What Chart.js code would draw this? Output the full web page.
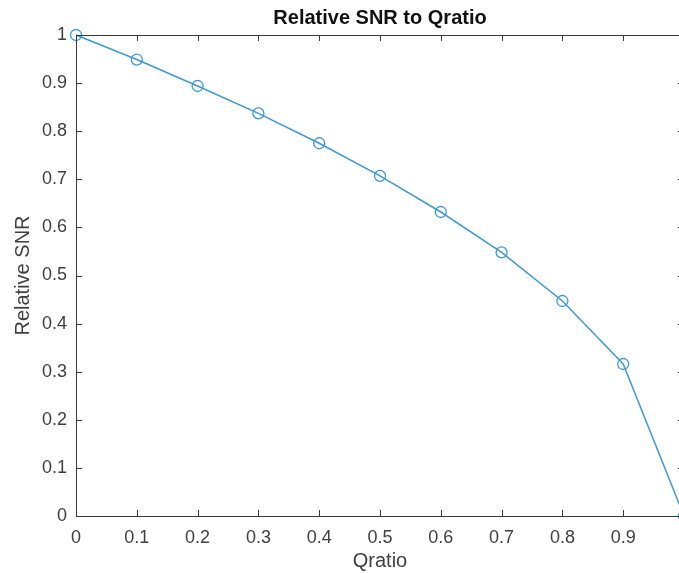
<!DOCTYPE html>
<html>
<head>
<meta charset="utf-8">
<script src="https://cdn.jsdelivr.net/npm/chart.js@4.4.1/dist/chart.umd.min.js"></script>
<style>
  html, body { margin: 0; padding: 0; background: #fff; }
  .wrap { width: 679px; height: 573px; overflow: hidden; position: relative; }
  .wrap canvas { position: absolute; left: 0; top: 0; }
</style>
</head>
<body>
<div class="wrap">
  <canvas id="chart" width="740" height="573"></canvas>
</div>
<script>
const qratio = [0, 0.1, 0.2, 0.3, 0.4, 0.5, 0.6, 0.7, 0.8, 0.9, 1];
const relSNR = [1, 0.949, 0.894, 0.837, 0.775, 0.707, 0.632, 0.548, 0.447, 0.316, 0];
const xTickLabels = ['0', '0.1', '0.2', '0.3', '0.4', '0.5', '0.6', '0.7', '0.8', '0.9', '1'];
const yTickLabels = ['0', '0.1', '0.2', '0.3', '0.4', '0.5', '0.6', '0.7', '0.8', '0.9', '1'];

const lineColor = '#3d98d6';
const axisColor = '#3a3a3a';
const labelColor = '#404040';
const fontFamily = "'Liberation Sans', Arial, Helvetica, sans-serif";

// matlab style box with inward ticks
const boxTicks = {
  id: 'boxTicks',
  afterDraw(chart) {
    const { ctx, chartArea: a, scales } = chart;
    const len = 6;
    ctx.save();
    ctx.strokeStyle = axisColor;
    ctx.lineWidth = 1;
    ctx.beginPath();
    scales.x.ticks.forEach(t => {
      const px = Math.round(scales.x.getPixelForValue(t.value)) + 0.5;
      ctx.moveTo(px, a.bottom); ctx.lineTo(px, a.bottom - len);
      ctx.moveTo(px, a.top); ctx.lineTo(px, a.top + len);
    });
    scales.y.ticks.forEach(t => {
      const py = Math.round(scales.y.getPixelForValue(t.value)) + 0.5;
      ctx.moveTo(a.left, py); ctx.lineTo(a.left + len, py);
      ctx.moveTo(a.right, py); ctx.lineTo(a.right - len, py);
    });
    ctx.stroke();
    ctx.strokeRect(Math.round(a.left) + 0.5, Math.round(a.top) + 0.5,
      Math.round(a.right - a.left), Math.round(a.bottom - a.top));
    ctx.restore();
  }
};

new Chart(document.getElementById('chart'), {
  type: 'scatter',
  data: {
    datasets: [{
      data: qratio.map((q, i) => ({ x: q, y: relSNR[i] })),
      showLine: true,
      borderColor: lineColor,
      borderWidth: 1.5,
      pointStyle: 'circle',
      pointRadius: 5.5,
      pointBorderWidth: 1.3,
      pointBackgroundColor: 'rgba(0,0,0,0)',
      pointBorderColor: lineColor,
      clip: false
    }]
  },
  options: {
    responsive: false,
    animation: false,
    devicePixelRatio: 1,
    layout: { padding: { left: 0, right: 56, top: 0, bottom: 0 } },
    plugins: {
      legend: { display: false },
      tooltip: { enabled: false },
      title: {
        display: true,
        fullSize: false,
        text: 'Relative SNR to Qratio',
        color: '#111',
        font: { family: fontFamily, size: 20, weight: 'bold' },
        padding: { top: 6, bottom: 5 }
      }
    },
    scales: {
      x: {
        type: 'linear',
        min: 0, max: 1,
        grid: { display: false, drawTicks: false },
        border: { display: false },
        ticks: {
          stepSize: 0.1,
          padding: 11,
          color: labelColor,
          font: { family: fontFamily, size: 18 },
          maxRotation: 0,
          callback: (v, i) => xTickLabels[i]
        },
        title: {
          display: true,
          text: 'Qratio',
          color: labelColor,
          font: { family: fontFamily, size: 20 },
          padding: { top: 0, bottom: 0 }
        },
        afterFit: s => { s.height = 57; }
      },
      y: {
        type: 'linear',
        min: 0, max: 1,
        grid: { display: false, drawTicks: false },
        border: { display: false },
        ticks: {
          stepSize: 0.1,
          padding: 9,
          color: labelColor,
          font: { family: fontFamily, size: 18 },
          callback: (v, i) => yTickLabels[i]
        },
        title: {
          display: true,
          text: 'Relative SNR',
          color: labelColor,
          font: { family: fontFamily, size: 20 },
          padding: { top: 11, bottom: 0 }
        },
        afterFit: s => { s.width = 76; }
      }
    }
  },
  plugins: [boxTicks]
});
</script>
</body>
</html>
